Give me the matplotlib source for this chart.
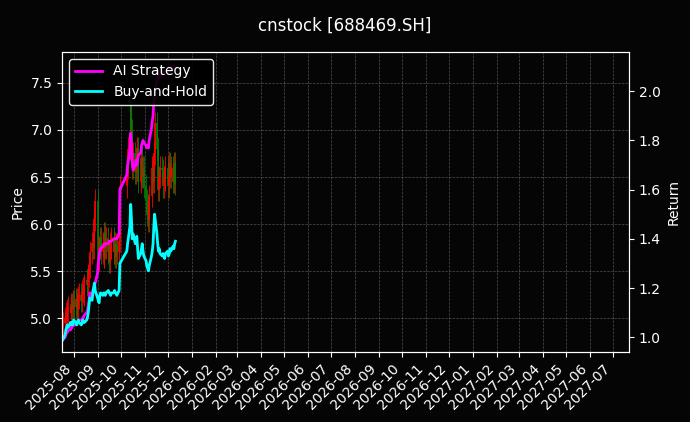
import matplotlib
matplotlib.use("Agg")
import matplotlib.pyplot as plt
import matplotlib.dates as mdates
import numpy as np
import pandas as pd

# daily closes (trading days, Golden Week skipped)
close = [4.95, 5.00, 5.05, 4.98, 5.08, 5.12, 5.05, 5.15, 5.10, 5.18, 5.12,
         5.20, 5.15, 5.10, 5.22, 5.25, 5.18, 5.28, 5.32, 5.25, 5.35, 5.40,
         5.38, 5.45, 5.55, 5.70, 5.80, 5.75, 5.95, 6.05, 6.25, 5.90, 5.62,
         5.75, 5.85, 5.70, 5.80, 5.65, 5.90, 5.75, 5.85, 5.70, 5.60, 5.80,
         5.75, 5.85, 5.70, 5.80, 5.65, 5.78, 5.70, 5.82,
         6.40, 6.60, 6.80, 6.95, 7.35, 7.00, 6.60, 6.75, 6.55, 6.70, 6.80,
         6.60, 6.45, 6.55, 6.70, 6.50, 6.60, 6.40, 6.25, 6.10, 6.20, 6.04,
         6.30, 6.55, 6.60, 6.45, 6.75, 7.07, 6.80, 6.50, 6.36, 6.50, 6.60,
         6.57, 6.40, 6.50, 6.47, 6.60, 6.55, 6.40, 6.65, 6.50, 6.60, 6.45, 6.65, 6.55, 6.43]
first_open = 4.90
wick = 0.12  # typical wick length beyond the body

bh_return = [0.99, 1.01, 1.03, 1.04, 1.05, 1.04, 1.06, 1.05, 1.06, 1.05, 1.07,
             1.06, 1.05, 1.06, 1.07, 1.06, 1.05, 1.06, 1.07, 1.06, 1.06, 1.07,
             1.08, 1.10, 1.13, 1.16, 1.15, 1.18, 1.20, 1.22, 1.19, 1.16, 1.15,
             1.14, 1.17, 1.18, 1.17, 1.18, 1.18, 1.17, 1.18, 1.19, 1.18, 1.18,
             1.17, 1.18, 1.18, 1.19, 1.18, 1.18, 1.17, 1.19,
             1.30, 1.35, 1.38, 1.45, 1.54, 1.48, 1.40, 1.42, 1.38, 1.40, 1.41,
             1.36, 1.32, 1.34, 1.36, 1.38, 1.35, 1.33, 1.31, 1.29, 1.28, 1.27,
             1.29, 1.33, 1.35, 1.38, 1.45, 1.50, 1.42, 1.38, 1.35, 1.36, 1.34,
             1.33, 1.34, 1.33, 1.32, 1.34, 1.35, 1.33, 1.34, 1.36, 1.35, 1.37, 1.36, 1.38, 1.39]

ai_return = [0.99, 1.00, 1.01, 1.02, 1.02, 1.03, 1.03, 1.04, 1.04, 1.05, 1.05,
             1.05, 1.06, 1.06, 1.06, 1.07, 1.07, 1.07, 1.08, 1.08, 1.09, 1.10,
             1.11, 1.13, 1.15, 1.18, 1.17, 1.19, 1.20, 1.21, 1.22, 1.26, 1.30,
             1.33, 1.35, 1.36, 1.37, 1.37, 1.38, 1.38, 1.38, 1.38, 1.39, 1.39,
             1.39, 1.39, 1.40, 1.40, 1.40, 1.40, 1.40, 1.42,
             1.60, 1.66, 1.70, 1.76, 1.83, 1.78, 1.72, 1.68, 1.70, 1.72, 1.70,
             1.72, 1.74, 1.75, 1.78, 1.79, 1.80, 1.79, 1.78, 1.77, 1.78, 1.77,
             1.80, 1.85, 1.88, 1.90, 1.96, 2.00, 2.04, 2.05, 2.06, 2.05, 2.07,
             2.06, 2.07, 2.08, 2.07, 2.08, 2.09, 2.08, 2.09, 2.10, 2.09, 2.10, 2.09, 2.10, 2.10]

holidays = pd.date_range("2025-10-01", "2025-10-08")
days = pd.bdate_range("2025-07-18", "2026-01-31")
dates = days[~days.isin(holidays)][:len(close)]

close = np.array(close)
opens = np.concatenate([[first_open], close[:-1]])

bg = "#050505"
fig = plt.figure(figsize=(6.9, 4.22), dpi=100, facecolor=bg)
ax = fig.add_axes([0.0899, 0.166, 0.8217, 0.711], facecolor=bg)
ax2 = ax.twinx()

# Candles
for d, o, c in zip(dates, opens, close):
    col = "red" if c >= o else "green"
    ax.vlines(d, min(o, c) - wick, max(o, c) + wick, color=col, linewidth=0.6)
    ax.vlines(d, min(o, c), max(o, c), color=col, linewidth=1.2)

ax2.plot(dates, ai_return, color="magenta", linewidth=2, label="AI Strategy")
ax2.plot(dates, bh_return, color="cyan", linewidth=2, label="Buy-and-Hold")

ax.set_ylim(4.64, 7.83)
ax2.set_ylim(0.94, 2.16)
ax.set_xlim(pd.Timestamp("2025-07-17"), pd.Timestamp("2027-07-22"))
ax.xaxis.set_major_locator(mdates.MonthLocator())
ax.xaxis.set_major_formatter(mdates.DateFormatter("%Y-%m"))
plt.setp(ax.get_xticklabels(), rotation=45, ha="right")

ax.grid(True, color="gray", linestyle="--", linewidth=0.5, alpha=0.6)
for a in (ax, ax2):
    a.tick_params(colors="white")
    for s in a.spines.values():
        s.set_color("white")
ax.set_ylabel("Price", color="white")
ax2.set_ylabel("Return", color="white")

leg = ax2.legend(loc="upper left", facecolor="black", edgecolor="white", framealpha=0.9)
for t in leg.get_texts():
    t.set_color("white")

fig.suptitle("cnstock [688469.SH]", color="white", y=0.96)
fig.savefig("out.png", facecolor=bg)
